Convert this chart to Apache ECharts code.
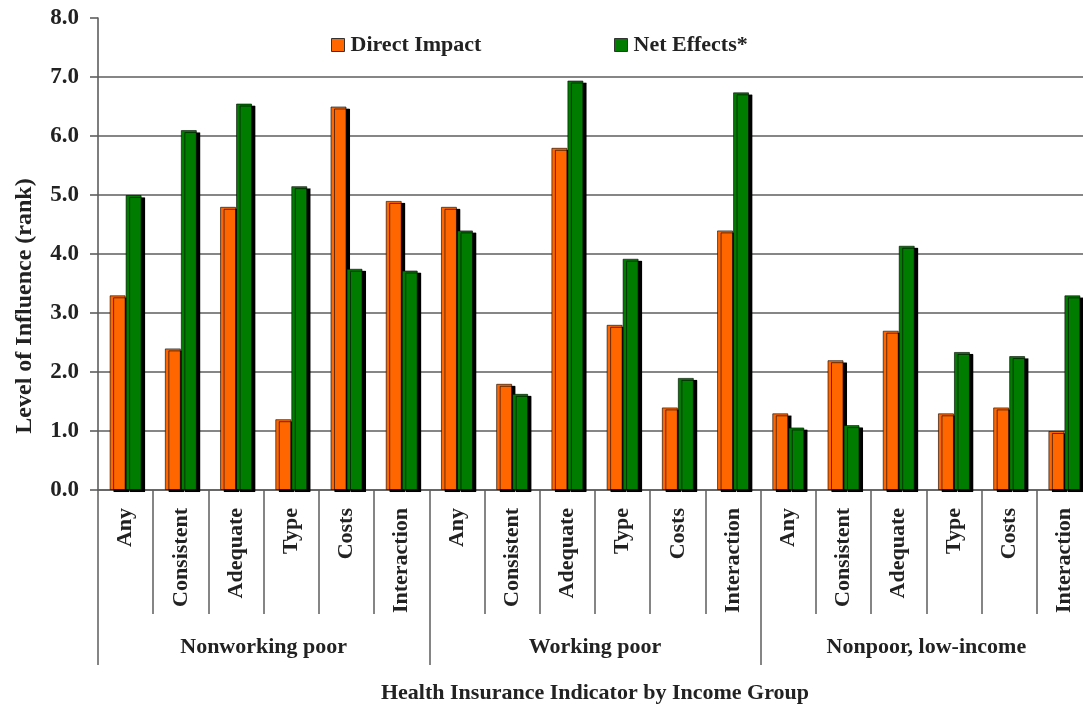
<!DOCTYPE html>
<html>
<head>
<meta charset="utf-8">
<script src="https://cdn.jsdelivr.net/npm/echarts@6/dist/echarts.min.js"></script>
<style>
  html, body { margin: 0; padding: 0; background: #fff; }
  #chart { width: 1083px; height: 708px; }
</style>
</head>
<body>
<div id="chart"></div>
<script>
// Income groups and the insurance indicators shown within each group
const groups = ['Nonworking poor', 'Working poor', 'Nonpoor, low-income'];
const indicators = ['Any', 'Consistent', 'Adequate', 'Type', 'Costs', 'Interaction'];

// Level of influence (rank), one value per indicator
const directNonworking = [3.3, 2.4, 4.8, 1.2, 6.5, 4.9];
const netNonworking    = [5.0, 6.1, 6.55, 5.15, 3.75, 3.72];
const directWorking    = [4.8, 1.8, 5.8, 2.8, 1.4, 4.4];
const netWorking       = [4.4, 1.63, 6.94, 3.92, 1.9, 6.74];
const directNonpoor    = [1.3, 2.2, 2.7, 1.3, 1.4, 1.0];
const netNonpoor       = [1.06, 1.1, 4.14, 2.34, 2.27, 3.3];

const yTicks = [0, 1, 2, 3, 4, 5, 6, 7, 8];

const categories = groups.flatMap(() => indicators);
const directImpact = [...directNonworking, ...directWorking, ...directNonpoor];
const netEffects = [...netNonworking, ...netWorking, ...netNonpoor];

const FONT = "'Liberation Serif', 'Times New Roman', serif";
const TEXT = { fontFamily: FONT, fontWeight: 'bold', fontSize: 22, color: '#222' };
const LINE = '#5e5e5e';

// Flat bars with a hard black drop shadow on the right edge
const barStyle = (color) => ({
  color: color,
  borderColor: 'rgba(0,0,0,0.6)',
  borderWidth: 1,
  shadowColor: '#000',
  shadowBlur: 0.5,
  shadowOffsetX: 3.5,
  shadowOffsetY: 2
});

const legendBase = {
  top: 29,
  icon: 'rect',
  itemWidth: 13,
  itemHeight: 13,
  itemGap: 0,
  itemStyle: { borderColor: '#333', borderWidth: 1, shadowBlur: 0, shadowOffsetX: 0, shadowOffsetY: 0, shadowColor: 'rgba(0,0,0,0)' },
  textStyle: Object.assign({}, TEXT, { padding: [0, 0, 0, 1] })
};

const chart = echarts.init(document.getElementById('chart'), null, { renderer: 'canvas' });
chart.setOption({
  animation: false,
  backgroundColor: '#fff',
  legend: [
    Object.assign({}, legendBase, { left: 326, data: ['Direct Impact'] }),
    Object.assign({}, legendBase, { left: 609, data: ['Net Effects*'] })
  ],
  grid: { left: 98, top: 18, width: 994, height: 472, containLabel: false, outerBoundsMode: 'none' },
  graphic: [
    {
      type: 'text',
      x: 25,
      y: 306,
      rotation: Math.PI / 2,
      style: {
        text: 'Level of Influence (rank)',
        font: "bold 24px 'Liberation Serif', 'Times New Roman', serif",
        fill: '#222',
        align: 'center',
        verticalAlign: 'middle'
      }
    }
  ],
  xAxis: [
    {
      type: 'category',
      data: categories,
      position: 'bottom',
      boundaryGap: true,
      axisLine: { show: true, lineStyle: { color: LINE, width: 1.6 } },
      axisTick: { show: true, interval: 0, length: 124, lineStyle: { color: LINE, width: 1.5 } },
      axisLabel: Object.assign({}, TEXT, { interval: 0, rotate: 90, margin: 18 }),
      name: 'Health Insurance Indicator by Income Group',
      nameLocation: 'middle',
      nameGap: 192,
      nameTextStyle: TEXT
    },
    {
      type: 'category',
      data: groups,
      position: 'bottom',
      boundaryGap: true,
      axisLine: { show: false },
      axisTick: { show: true, interval: 0, length: 175, lineStyle: { color: LINE, width: 1.5 } },
      axisLabel: Object.assign({}, TEXT, { interval: 0, margin: 146 })
    }
  ],
  yAxis: {
    type: 'value',
    min: yTicks[0],
    max: yTicks[yTicks.length - 1],
    interval: 1,
    axisLine: { show: true, lineStyle: { color: LINE, width: 1.6 } },
    axisTick: { show: true, length: 8, lineStyle: { color: LINE, width: 1.6 } },
    axisLabel: Object.assign({}, TEXT, { fontSize: 23, margin: 19, formatter: (v) => v.toFixed(1) }),
    splitLine: { show: true, showMaxLine: false, lineStyle: { color: LINE, width: 1.6 } }
  },
  series: [
    {
      name: 'Direct Impact',
      type: 'bar',
      xAxisIndex: 0,
      data: directImpact,
      barWidth: 16,
      barGap: '0%',
      itemStyle: barStyle('#FF6600')
    },
    {
      name: 'Net Effects*',
      type: 'bar',
      xAxisIndex: 0,
      data: netEffects,
      barWidth: 16,
      barGap: '0%',
      itemStyle: barStyle('#007C00')
    }
  ]
});
</script>
</body>
</html>
